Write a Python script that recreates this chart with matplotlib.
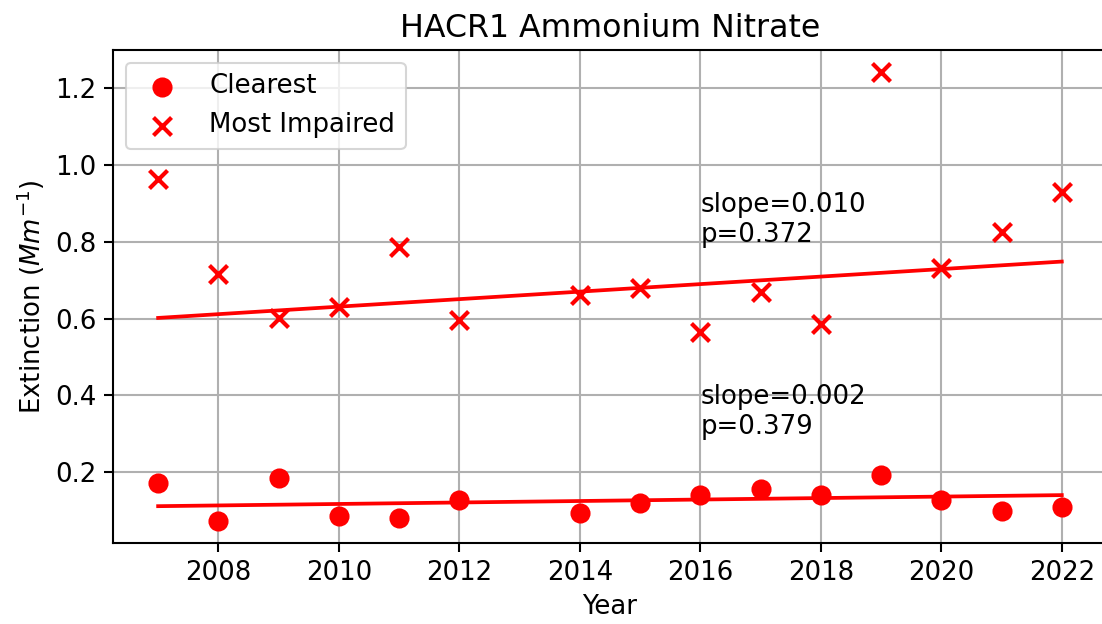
import numpy as np
import matplotlib
matplotlib.use("Agg")
import matplotlib.pyplot as plt

years = [2007, 2008, 2009, 2010, 2011, 2012, 2014, 2015, 2016, 2017, 2018, 2019, 2020, 2021, 2022]
clearest = [0.172, 0.073, 0.185, 0.085, 0.079, 0.126, 0.093, 0.118, 0.141, 0.156, 0.141, 0.193, 0.128, 0.098, 0.109]
impaired = [0.963, 0.715, 0.601, 0.631, 0.787, 0.597, 0.661, 0.680, 0.565, 0.669, 0.587, 1.242, 0.733, 0.826, 0.931]
clear_label = "slope=0.002\np=0.379"
imp_label = "slope=0.010\np=0.372"

FS = 12.5
plt.rcParams["font.size"] = FS


def theil_sen(xv, yv):
    xv = np.asarray(xv, dtype=float)
    yv = np.asarray(yv, dtype=float)
    slopes = []
    for i in range(len(xv)):
        for j in range(i + 1, len(xv)):
            if xv[j] != xv[i]:
                slopes.append((yv[j] - yv[i]) / (xv[j] - xv[i]))
    m = np.median(slopes)
    b = np.median(yv) - m * np.median(xv)
    return m, b


fig = plt.figure(figsize=(1102 / 150, 624 / 150), dpi=150)
ax = fig.add_axes([0.1025, 0.1298, 1.0045 - 0.1025, 0.9199 - 0.1298])

x = np.array(years, dtype=float)
ax.scatter(years, clearest, color="red", marker="o", s=75, label="Clearest", zorder=3)
ax.scatter(years, impaired, color="red", marker="x", s=75, linewidths=2.0, label="Most Impaired", zorder=3)

for vals in (clearest, impaired):
    m, b = theil_sen(x, vals)
    ax.plot(x, m * x + b, color="red", lw=1.8, zorder=2)

ax.text(2016, 0.8, imp_label, fontsize=FS)
ax.text(2016, 0.3, clear_label, fontsize=FS)

ax.set_xticks([2008, 2010, 2012, 2014, 2016, 2018, 2020, 2022])
ax.grid(True, color="#b0b0b0", lw=1.0)
ax.set_axisbelow(True)
ax.set_title("HACR1 Ammonium Nitrate", fontsize=15.2)
ax.set_xlabel("Year", fontsize=FS)
ax.set_ylabel("Extinction ($Mm^{-1}$)", fontsize=FS)
ax.tick_params(labelsize=FS, width=1.0, length=4.5)
for sp in ax.spines.values():
    sp.set_linewidth(1.0)
ax.legend(loc="upper left", fontsize=FS)

fig.savefig("out.png", dpi=150)
